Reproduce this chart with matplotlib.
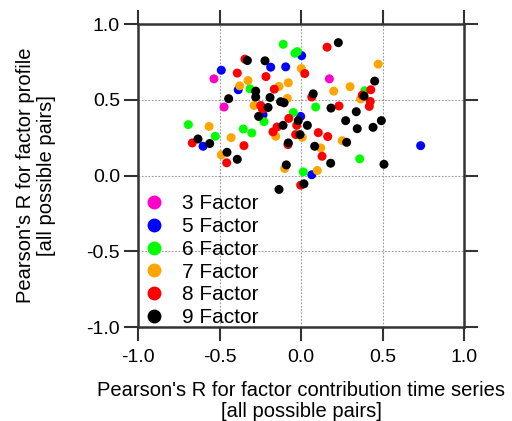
import matplotlib
matplotlib.use("Agg")
import matplotlib.pyplot as plt
from matplotlib.lines import Line2D

plt.rcParams['font.family'] = ['Liberation Sans', 'DejaVu Sans']

labels = ["3 Factor", "5 Factor", "6 Factor", "7 Factor", "8 Factor", "9 Factor"]
colors = ["#ff00cc", "#0000ff", "#00ff00", "#ffa500", "#ff0000", "#000000"]

x3 = [-0.534, -0.472, 0.174]
y3 = [0.638, 0.452, 0.638]

x5 = [0.004, -0.186, -0.094, -0.489, -0.385, -0.233, -0.002, -0.601, 0.066, 0.734]
y5 = [0.791, 0.715, 0.717, 0.695, 0.566, 0.401, 0.390, 0.193, 0.005, 0.197]

x6 = [-0.109, -0.037, -0.023, -0.313, 0.090, -0.047, -0.227, -0.691, -0.354, -0.302, -0.526, 0.014, 0.391, 0.360]
y6 = [0.866, 0.807, 0.818, 0.572, 0.452, 0.416, 0.355, 0.336, 0.307, 0.281, 0.259, 0.024, 0.559, 0.110]

x7 = [0.002, -0.325, -0.078, -0.376, -0.135, -0.084, -0.288, -0.564, -0.155, 0.008,
      -0.429, -0.489, -0.100, 0.100, 0.474, 0.201, 0.301, 0.366, 0.253, 0.121]
y7 = [0.706, 0.627, 0.612, 0.592, 0.588, 0.509, 0.462, 0.324, 0.259, 0.252,
      0.250, 0.136, 0.046, 0.033, 0.735, 0.557, 0.586, 0.505, 0.230, 0.182]

x8 = [-0.344, -0.391, 0.023, -0.215, -0.164, 0.066, -0.247, -0.237, -0.075, -0.147,
      -0.026, -0.172, -0.033, -0.667, -0.350, -0.080, -0.456, -0.002, 0.160, 0.428,
      0.376, 0.425, 0.419, 0.233, 0.106, 0.164, 0.129]
y8 = [0.768, 0.676, 0.673, 0.653, 0.570, 0.518, 0.462, 0.439, 0.377, 0.320,
      0.331, 0.288, 0.270, 0.215, 0.197, 0.204, 0.084, -0.064, 0.847, 0.566,
      0.531, 0.489, 0.456, 0.459, 0.283, 0.257, 0.127]

x9 = [-0.329, -0.221, 0.229, -0.278, -0.278, 0.075, -0.444, -0.190, -0.125, -0.104,
      -0.202, -0.260, -0.017, 0.039, -0.110, -0.006, -0.632, -0.560, -0.078, 0.084,
      -0.454, -0.391, -0.090, -0.135, 0.018, 0.452, 0.387, 0.184, 0.339, 0.274,
      0.493, 0.345, 0.442, 0.280, 0.182, 0.509]
y9 = [0.759, 0.757, 0.877, 0.557, 0.518, 0.539, 0.507, 0.515, 0.487, 0.480,
      0.449, 0.390, 0.362, 0.331, 0.331, 0.270, 0.241, 0.211, 0.215, 0.193,
      0.153, 0.107, 0.070, -0.092, -0.055, 0.623, 0.524, 0.445, 0.421, 0.362,
      0.362, 0.309, 0.318, 0.219, 0.081, 0.074]

xs = [x3, x5, x6, x7, x8, x9]
ys = [y3, y5, y6, y7, y8, y9]

ticks = [-1.0, -0.5, 0.0, 0.5, 1.0]
tick_labels = ["-1.0", "-0.5", "0.0", "0.5", "1.0"]

fig = plt.figure(figsize=(5.12, 4.21), dpi=100)
ax = fig.add_axes([138/512, 1-327/421, (464-138)/512, (327-24)/421])

for xv, yv, c in zip(xs, ys, colors):
    ax.scatter(xv, yv, s=42, color=c, edgecolors='none', zorder=3)

ax.set_xlim(-1, 1)
ax.set_ylim(-1, 1)
ax.set_xticks(ticks)
ax.set_xticklabels(tick_labels)
ax.set_yticks(ticks)
ax.set_yticklabels(tick_labels)

for v in [-0.5, 0.0, 0.5]:
    ax.axvline(v, color='#999999', lw=0.8, ls=(0, (1.5, 1.5)), zorder=1)
    ax.axhline(v, color='#999999', lw=0.8, ls=(0, (1.5, 1.5)), zorder=1)

for sp in ax.spines.values():
    sp.set_linewidth(1.8)
    sp.set_color('#333333')

ax.tick_params(direction='out', length=10, width=1.5, color='#333333',
               top=True, right=True, labelsize=14)
ax.tick_params(axis='x', pad=6)
ax.tick_params(axis='y', pad=3)

ax.set_xlabel("Pearson's R for factor contribution time series\n[all possible pairs]",
              fontsize=14.5, linespacing=1.1, labelpad=11)
ax.set_ylabel("Pearson's R for factor profile\n[all possible pairs]",
              fontsize=14.5, linespacing=1.15, labelpad=22)

handles = [Line2D([], [], marker='o', ls='none', color=c, markersize=10, markeredgewidth=0)
           for c in colors]
ax.legend(handles, labels, loc='lower left', bbox_to_anchor=(0.0, -0.018),
          frameon=False, fontsize=15, handletextpad=0.85, labelspacing=0.18,
          borderaxespad=0.1, borderpad=0.15, handlelength=1.0)

fig.savefig("out.png", dpi=100)
